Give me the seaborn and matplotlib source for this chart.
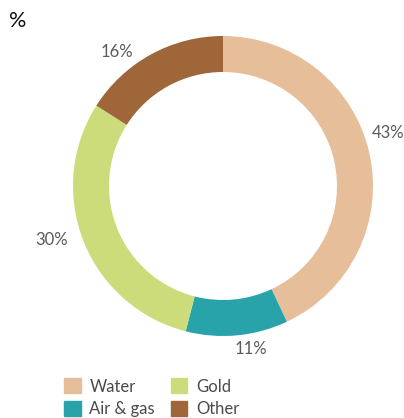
import matplotlib
matplotlib.use("Agg")
import matplotlib.pyplot as plt
import matplotlib.patches as mpatches
import seaborn as sns
import numpy as np

categories = ["Water", "Air & gas", "Gold", "Other"]
values = [43, 11, 30, 16]
colors = ["#E6BE99", "#28A3AA", "#CCDC7B", "#9E6639"]
title_text = "%"

sns.set_theme(style="white")
plt.rcParams['font.family'] = ['Lato', 'DejaVu Sans']

W, H = 404, 418
fig = plt.figure(figsize=(W / 100, H / 100), dpi=100)
cx, cy, R = 223, 186, 150
ax = fig.add_axes([(cx - R) / W, (H - cy - R) / H, 2 * R / W, 2 * R / H])
wedges, _ = ax.pie(values, colors=colors, startangle=90, counterclock=False,
                   radius=1, wedgeprops=dict(width=0.24, linewidth=0))
ax.set_xlim(-1, 1)
ax.set_ylim(-1, 1)
ax.set_aspect('equal')
ax.axis('off')

# label placement tweaks (angle shift in degrees, radius)
tweaks = {"Water": (5.2, 1.155), "Air & gas": (4.3, 1.103), "Gold": (-4.0, 1.196), "Other": (9.5, 1.139)}
for w, cat, v in zip(wedges, categories, values):
    mid = (w.theta1 + w.theta2) / 2
    da, r = tweaks[cat]
    a = np.deg2rad(mid + da)
    ax.text(r * np.cos(a), r * np.sin(a), f"{v}%", ha='center', va='center',
            fontsize=12, color='#5a5a5a')

fig.text(9 / W, 1 - 21 / H, title_text, fontsize=15.5, color='#111111', va='center', ha='left')

handles = [mpatches.Patch(color=c, label=l) for c, l in zip(colors, categories)]
fig.legend(handles=handles, labels=categories, ncol=2, frameon=False,
           loc='upper left', bbox_to_anchor=(56 / W, 1 - 370 / H),
           handlelength=1.0, handleheight=1.0, handletextpad=0.5,
           columnspacing=0.95, labelspacing=0.4, borderpad=0,
           labelcolor='#4a4a4a', prop=dict(family=['Lato', 'DejaVu Sans'], size=12))

fig.savefig("out.png", dpi=100)
